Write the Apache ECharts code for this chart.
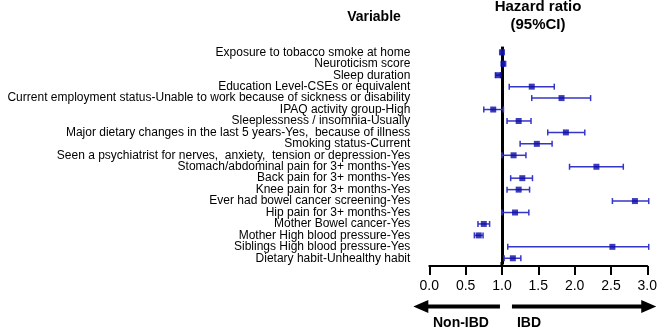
<!DOCTYPE html>
<html>
<head>
<meta charset="utf-8">
<script src="https://cdn.jsdelivr.net/npm/echarts@6/dist/echarts.min.js"></script>
<style>
html, body { margin: 0; padding: 0; background: #fff; }
#main { width: 660px; height: 330px; }
</style>
</head>
<body>
<div id="main"></div>
<script>
// rows, top to bottom
var variables = [
    'Exposure to tobacco smoke at home',
    'Neuroticism score',
    'Sleep duration',
    'Education Level-CSEs or equivalent',
    'Current employment status-Unable to work because of sickness or disability',
    'IPAQ activity group-High',
    'Sleeplessness / insomnia-Usually',
    'Major dietary changes in the last 5 years-Yes,  because of illness',
    'Smoking status-Current',
    'Seen a psychiatrist for nerves,  anxiety,  tension or depression-Yes',
    'Stomach/abdominal pain for 3+ months-Yes',
    'Back pain for 3+ months-Yes',
    'Knee pain for 3+ months-Yes',
    'Ever had bowel cancer screening-Yes',
    'Hip pain for 3+ months-Yes',
    'Mother Bowel cancer-Yes',
    'Mother High blood pressure-Yes',
    'Siblings High blood pressure-Yes',
    'Dietary habit-Unhealthy habit'
];
var hr     = [1.00, 1.02, 0.95, 1.41, 1.82, 0.88, 1.23, 1.88, 1.48, 1.16, 2.30, 1.28, 1.23, 2.83, 1.18, 0.75, 0.68, 2.52, 1.15];
var ciLow  = [0.99, 1.01, 0.91, 1.10, 1.41, 0.75, 1.07, 1.63, 1.25, 1.00, 1.93, 1.12, 1.07, 2.52, 1.00, 0.67, 0.62, 1.08, 1.03];
var ciHigh = [1.02, 1.03, 0.98, 1.72, 2.22, 1.02, 1.40, 2.14, 1.69, 1.33, 2.67, 1.42, 1.38, 3.02, 1.37, 0.83, 0.74, 3.02, 1.26];
var refValue = 1;

var myChart = echarts.init(document.getElementById('main'));

var pointData = [];
var ciData = [];
for (var i = 0; i < variables.length; i++) {
    pointData.push([hr[i], i]);
    ciData.push([ciLow[i], ciHigh[i], i]);
}

function renderCI(params, api) {
    var lo = api.coord([api.value(0), api.value(2)]);
    var hi = api.coord([api.value(1), api.value(2)]);
    var cap = 3;
    var st = { stroke: '#3535c8', lineWidth: 1.5 };
    return {
        type: 'group',
        children: [
            { type: 'line', shape: { x1: lo[0], y1: lo[1], x2: hi[0], y2: hi[1] }, style: st },
            { type: 'line', shape: { x1: lo[0], y1: lo[1] - cap, x2: lo[0], y2: lo[1] + cap }, style: st },
            { type: 'line', shape: { x1: hi[0], y1: hi[1] - cap, x2: hi[0], y2: hi[1] + cap }, style: st }
        ]
    };
}

var option = {
    animation: false,
    grid: { left: 429.3, right: 12.7, top: 46.6, bottom: 66 },
    xAxis: {
        type: 'value',
        min: 0,
        max: 3,
        interval: 0.5,
        offset: 2,
        splitLine: { show: false },
        axisLine: { show: true, onZero: false, lineStyle: { color: '#000', width: 2 } },
        axisTick: { show: true, length: 9, lineStyle: { color: '#000', width: 2 } },
        axisLabel: {
            margin: 13,
            color: '#000',
            fontSize: 14,
            fontFamily: 'Liberation Sans',
            formatter: function (v) { return v.toFixed(1); }
        }
    },
    yAxis: {
        type: 'category',
        inverse: true,
        data: variables,
        axisLine: { show: false },
        axisTick: { show: false },
        splitLine: { show: false },
        axisLabel: {
            interval: 0,
            margin: 19,
            color: '#000',
            fontSize: 12,
            fontFamily: 'Liberation Sans'
        }
    },
    series: [
        {
            type: 'line',
            data: [],
            z: 1,
            markLine: {
                silent: true,
                symbol: 'none',
                label: { show: false },
                lineStyle: { color: '#000', width: 3, type: 'solid' },
                data: [{ xAxis: refValue }]
            }
        },
        {
            type: 'custom',
            renderItem: renderCI,
            data: ciData,
            clip: false,
            z: 5
        },
        {
            type: 'scatter',
            data: pointData,
            symbol: 'rect',
            symbolSize: 6,
            itemStyle: { color: '#0b0ba6' },
            z: 10
        }
    ]
};
myChart.setOption(option);

// arrows and headings
var x0 = myChart.convertToPixel({ xAxisIndex: 0 }, 0);
var x1 = myChart.convertToPixel({ xAxisIndex: 0 }, refValue);
var x3 = myChart.convertToPixel({ xAxisIndex: 0 }, 3);
var ay = 306.5;
var head = 15, half = 6.5;
var bold = 'bold 14px "Liberation Sans", Arial, sans-serif';

myChart.setOption({
    graphic: [
        { type: 'text', style: { text: 'Variable', x: 374, y: 17, font: bold, fill: '#000', textAlign: 'center', textVerticalAlign: 'middle' } },
        { type: 'text', style: { text: 'Hazard ratio', x: 538, y: 7, font: 'bold 15px "Liberation Sans", Arial, sans-serif', fill: '#000', textAlign: 'center', textVerticalAlign: 'middle' } },
        { type: 'text', style: { text: '(95%CI)', x: 538, y: 25, font: 'bold 15px "Liberation Sans", Arial, sans-serif', fill: '#000', textAlign: 'center', textVerticalAlign: 'middle' } },
        // vertical reference line reaches down to the axis
        { type: 'line', z: 0, shape: { x1: x1, y1: 262, x2: x1, y2: 266 }, style: { stroke: '#000', lineWidth: 3 } },
        // left arrow (Non-IBD)
        { type: 'line', shape: { x1: x1 - 2, y1: ay, x2: x0 - 16 + head - 1, y2: ay }, style: { stroke: '#000', lineWidth: 4 } },
        { type: 'polygon', shape: { points: [[x0 - 16, ay], [x0 - 16 + head, ay - half], [x0 - 16 + head, ay + half]] }, style: { fill: '#000' } },
        // right arrow (IBD)
        { type: 'line', shape: { x1: x1 + 10, y1: ay, x2: x3 + 9 - head + 1, y2: ay }, style: { stroke: '#000', lineWidth: 4 } },
        { type: 'polygon', shape: { points: [[x3 + 9, ay], [x3 + 9 - head, ay - half], [x3 + 9 - head, ay + half]] }, style: { fill: '#000' } },
        { type: 'text', style: { text: 'Non-IBD', x: x1 - 13, y: 323, font: bold, fill: '#000', textAlign: 'right', textVerticalAlign: 'middle' } },
        { type: 'text', style: { text: 'IBD', x: x1 + 15, y: 323, font: bold, fill: '#000', textAlign: 'left', textVerticalAlign: 'middle' } }
    ]
});
</script>
</body>
</html>
